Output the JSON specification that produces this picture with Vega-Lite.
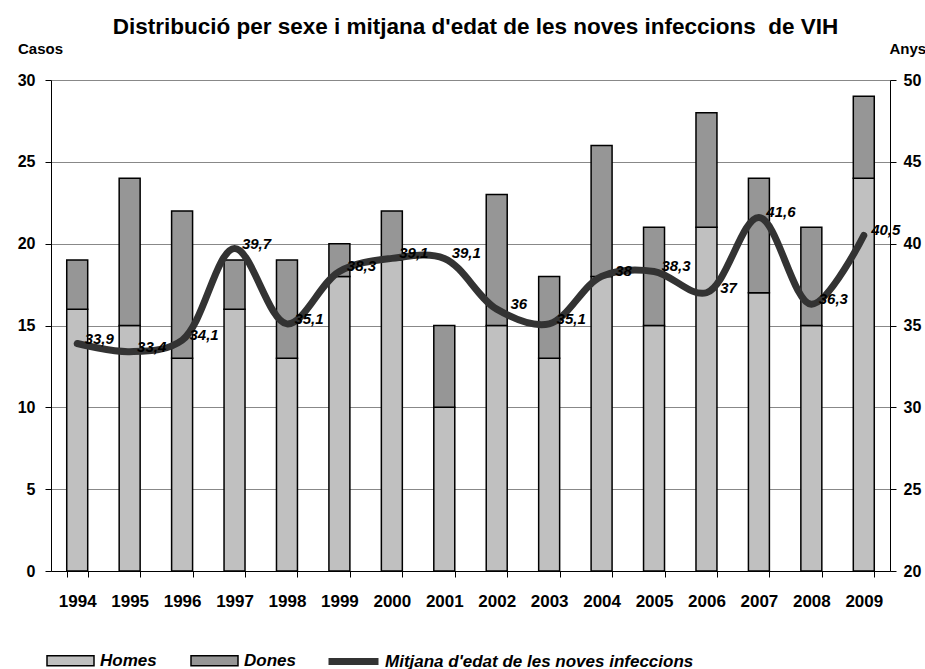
{
  "$schema": "https://vega.github.io/schema/vega-lite/v6.json",
  "width": 839,
  "height": 491,
  "autosize": {"type": "none"},
  "padding": {"left": 51, "top": 80, "right": 35, "bottom": 98},
  "background": "white",
  "config": {
    "view": {"stroke": null},
    "font": "Liberation Sans",
    "locale": {"number": {"decimal": ",", "thousands": ".", "grouping": [3], "currency": ["", " €"]}},
    "axis": {"labelFont": "Liberation Sans", "labelFontWeight": "bold", "labelColor": "black", "domainColor": "black", "tickColor": "black", "titleFont": "Liberation Sans", "titleFontWeight": "bold", "titleColor": "black"}
  },
  "title": {
    "text": "Distribució per sexe i mitjana d'edat de les noves infeccions \u00a0de VIH",
    "font": "Liberation Sans",
    "fontSize": 22.5,
    "fontWeight": "bold",
    "color": "black",
    "anchor": "middle",
    "frame": "group",
    "offset": 3,
    "dx": 5
  },
  "data": {
    "values": [
      {"any": "1994", "Homes": 16, "Dones": 3, "edat": 33.9},
      {"any": "1995", "Homes": 15, "Dones": 9, "edat": 33.4},
      {"any": "1996", "Homes": 13, "Dones": 9, "edat": 34.1},
      {"any": "1997", "Homes": 16, "Dones": 3, "edat": 39.7},
      {"any": "1998", "Homes": 13, "Dones": 6, "edat": 35.1},
      {"any": "1999", "Homes": 18, "Dones": 2, "edat": 38.3},
      {"any": "2000", "Homes": 19, "Dones": 3, "edat": 39.1},
      {"any": "2001", "Homes": 10, "Dones": 5, "edat": 39.1},
      {"any": "2002", "Homes": 15, "Dones": 8, "edat": 36},
      {"any": "2003", "Homes": 13, "Dones": 5, "edat": 35.1},
      {"any": "2004", "Homes": 18, "Dones": 8, "edat": 38},
      {"any": "2005", "Homes": 15, "Dones": 6, "edat": 38.3},
      {"any": "2006", "Homes": 21, "Dones": 7, "edat": 37},
      {"any": "2007", "Homes": 17, "Dones": 7, "edat": 41.6},
      {"any": "2008", "Homes": 15, "Dones": 6, "edat": 36.3},
      {"any": "2009", "Homes": 24, "Dones": 5, "edat": 40.5}
    ]
  },
  "encoding": {
    "x": {
      "field": "any",
      "type": "nominal",
      "scale": {"paddingInner": 0.6, "paddingOuter": 0.3},
      "axis": {"title": null, "labelAngle": 0, "labelFontSize": 17, "labelPadding": 16, "tickSize": 6, "tickBand": "extent", "grid": false, "domainWidth": 1}
    }
  },
  "layer": [
    {
      "transform": [{"fold": ["Homes", "Dones"], "as": ["sexe", "casos"]}],
      "mark": {"type": "bar", "stroke": "black", "strokeWidth": 1.5},
      "encoding": {
        "y": {
          "field": "casos",
          "type": "quantitative",
          "stack": "zero",
          "scale": {"domain": [0, 30], "nice": false},
          "axis": {"values": [0, 5, 10, 15, 20, 25, 30], "title": "Casos", "titleAngle": 0, "titleAlign": "center", "titleBaseline": "alphabetic", "titleX": -11, "titleY": -27, "titleFontSize": 15, "labelFontSize": 16, "labelPadding": 10, "tickSize": 6, "grid": true, "gridColor": "#888888", "gridWidth": 1}
        },
        "color": {
          "field": "sexe",
          "type": "nominal",
          "sort": ["Homes", "Dones"],
          "scale": {"domain": ["Homes", "Dones"], "range": ["#C0C0C0", "#969696"]},
          "legend": {
            "title": null,
            "orient": "none",
            "direction": "horizontal",
            "legendX": -5,
            "legendY": 556,
            "symbolType": "M-1,-0.2128H1V0.2128H-1Z",
            "symbolSize": 2209,
            "symbolStrokeColor": "black",
            "symbolStrokeWidth": 1.5,
            "symbolOpacity": 1,
            "labelFont": "Liberation Sans",
            "labelFontSize": 17,
            "labelFontWeight": "bold",
            "labelFontStyle": "italic",
            "labelColor": "black",
            "labelOffset": 5,
            "labelLimit": 0,
            "columnPadding": 31
          }
        }
      }
    },
    {
      "layer": [
        {
          "mark": {"type": "line", "interpolate": "catmull-rom", "strokeWidth": 7, "strokeCap": "round", "strokeJoin": "round"},
          "encoding": {
            "y": {
              "field": "edat",
              "type": "quantitative",
              "scale": {"domain": [20, 50], "nice": false, "zero": false},
              "axis": {"orient": "right", "values": [20, 25, 30, 35, 40, 45, 50], "title": "Anys", "titleAngle": 0, "titleAlign": "left", "titleBaseline": "alphabetic", "titleX": -1, "titleY": -27, "titleFontSize": 15, "labelFontSize": 16, "labelPadding": 7, "tickSize": 6, "grid": false}
            },
            "stroke": {
              "datum": "Mitjana d'edat de les noves infeccions",
              "type": "nominal",
              "scale": {"range": ["#333333"]},
              "legend": {
                "title": null,
                "orient": "none",
                "legendX": 274,
                "legendY": 553,
                "symbolType": "stroke",
                "symbolSize": 2500,
                "symbolStrokeWidth": 7,
                "labelFont": "Liberation Sans",
                "labelFontSize": 17,
                "labelFontWeight": "bold",
                "labelFontStyle": "italic",
                "labelColor": "black",
                "labelOffset": 3,
                "labelLimit": 0
              }
            }
          }
        },
        {
          "mark": {"type": "text", "font": "Liberation Sans", "fontSize": 15, "fontWeight": "bold", "fontStyle": "italic", "color": "black", "dx": 22, "dy": -5},
          "encoding": {
            "y": {"field": "edat", "type": "quantitative"},
            "text": {"field": "edat", "type": "quantitative", "format": "~r"}
          }
        }
      ]
    }
  ],
  "resolve": {"scale": {"y": "independent", "color": "independent"}}
}
